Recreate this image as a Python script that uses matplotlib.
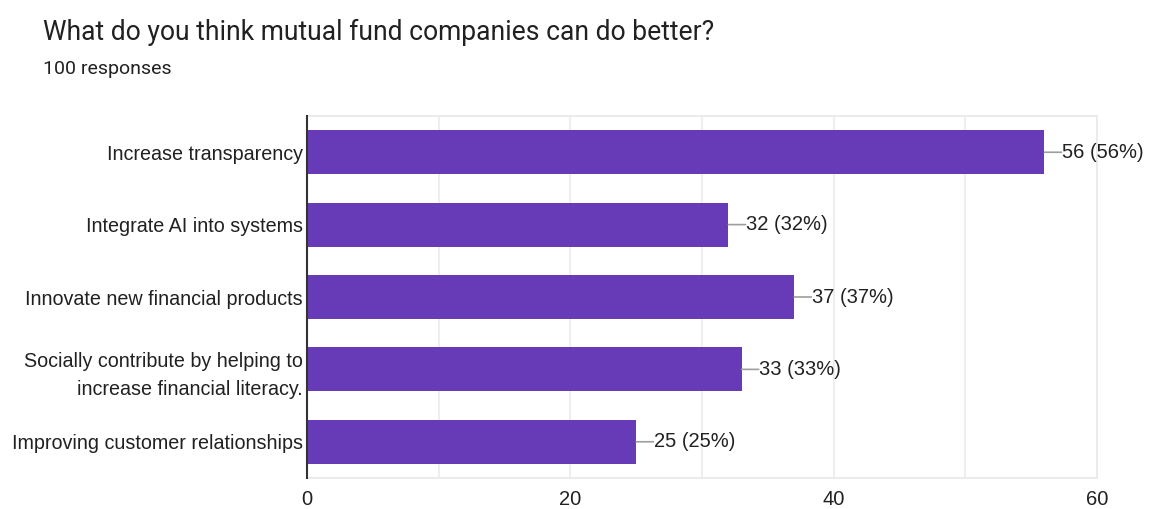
import matplotlib
matplotlib.use("Agg")
import matplotlib.pyplot as plt

plt.rcParams['font.family'] = ['Roboto', 'DejaVu Sans']
AXIS_FONT = ['Liberation Sans', 'DejaVu Sans']

categories = [
    "Increase transparency",
    "Integrate AI into systems",
    "Innovate new financial products",
    "Socially contribute by helping to\nincrease financial literacy.",
    "Improving customer relationships",
]
counts = [56, 32, 37, 33, 25]
total_responses = 100
x_ticks = [0, 20, 40, 60]

BAR = "#673ab7"
TEXT = "#212121"
GRID = "#ebebeb"

fig = plt.figure(figsize=(11.5, 5.09), dpi=100)
ax = fig.add_axes([0.267, 0.061, 0.687, 0.711])

ypos = list(range(len(categories)))
ax.barh(ypos, counts, height=0.61, color=BAR, zorder=3)

for y, c in zip(ypos, counts):
    pct = round(100 * c / total_responses)
    ax.annotate("", xy=(c, y), xytext=(c + 1.3, y),
                arrowprops=dict(arrowstyle="-", color="#9e9e9e", lw=1.2,
                                shrinkA=0, shrinkB=0), zorder=4)
    ax.text(c + 1.35, y, f"{c} ({pct}%)", va="center", ha="left",
            fontsize=14.5, color=TEXT, family=AXIS_FONT, zorder=5)

ax.set_xlim(0, 60)
ax.set_ylim(len(categories) - 0.5, -0.5)
ax.set_yticks(ypos)
ax.set_yticklabels(categories, fontsize=14.2, color=TEXT, ha="right",
                   linespacing=1.6, family=AXIS_FONT)
ax.set_xticks(x_ticks)
ax.set_xticklabels([str(t) for t in x_ticks], fontsize=14.5, color=TEXT,
                   family=AXIS_FONT)
ax.set_xticks(range(0, 61, 10), minor=True)
ax.tick_params(axis="both", which="both", length=0)
ax.tick_params(axis="x", pad=9)
ax.tick_params(axis="y", pad=3)
ax.grid(axis="x", which="both", color=GRID, lw=1.2, zorder=0)

for side in ("top", "right", "bottom"):
    ax.spines[side].set_color(GRID)
    ax.spines[side].set_linewidth(1.4)
ax.spines["left"].set_color("#333333")
ax.spines["left"].set_linewidth(1.5)
ax.spines["left"].set_zorder(6)

fig.text(43 / 1150, 1 - 32 / 509, "What do you think mutual fund companies can do better?",
         fontsize=19.1, color=TEXT, va="center", ha="left")
fig.text(43 / 1150, 1 - 69 / 509, f"{total_responses} responses",
         fontsize=14, color=TEXT, va="center", ha="left")

fig.savefig("out.png", dpi=100, facecolor="white")
